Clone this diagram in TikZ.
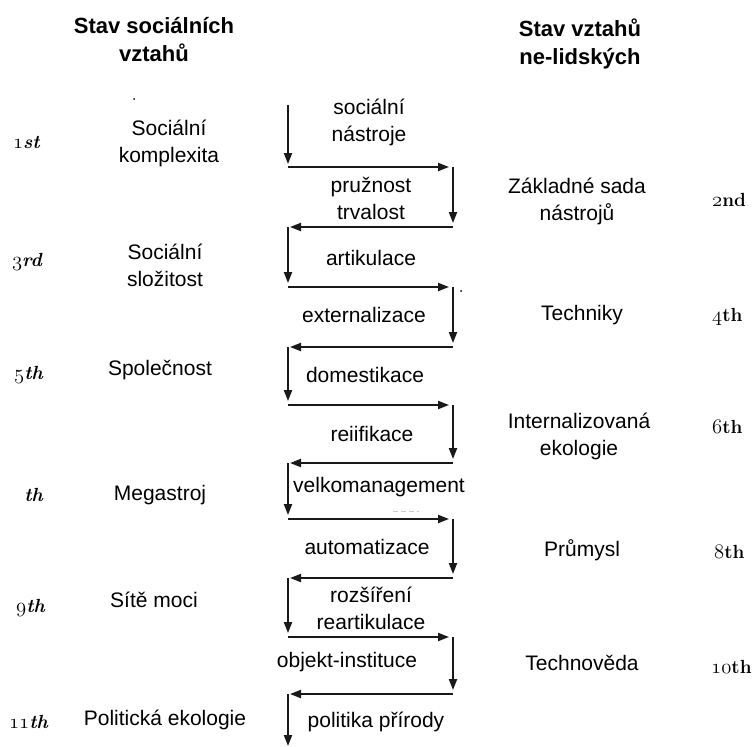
\documentclass[tikz,border=0pt]{standalone}
\usepackage{fontspec}
\newfontfamily\arialf{Liberation Sans}
\newcommand\osnumb[1]{{\usefont{OML}{lmm}{b}{it}#1}}
\usetikzlibrary{arrows.meta,calc}
\begin{document}
\begin{tikzpicture}[x=1bp,y=-1bp,
  lbl/.style={font=\arialf\fontsize{21bp}{27bp}\selectfont, align=center, inner sep=0pt},
  hdr/.style={font=\arialf\bfseries\fontsize{22bp}{28bp}\selectfont, align=center, inner sep=0pt},
  ordl/.style={font=\rmfamily\bfseries\itshape\fontsize{19bp}{22bp}\selectfont, inner sep=0pt, anchor=east},
  ordr/.style={font=\rmfamily\bfseries\fontsize{19bp}{22bp}\selectfont, inner sep=0pt, anchor=west},
  arr/.style={draw=gray!20!black, line width=2bp, -{Triangle[length=11bp,width=8bp]}}]
\useasboundingbox (0,0) rectangle (756,747);

% headers
\node[hdr] (hl) at (154,40) {Stav sociálních\\vztahů};
\node[hdr] (hr) at (580,44) {Stav vztahů\\ne-lidských};

% left labels
\node[lbl] (l1) at (169,143) {Sociální\\komplexita};
\node[lbl] (l3) at (165,265) {Sociální\\složitost};
\node[lbl] (l5) at (160,370) {Společnost};
\node[lbl] (l7) at (160,495) {Megastroj};
\node[lbl] (l9) at (154,600) {Sítě moci};
\node[lbl] (l11) at (165,720) {Politická ekologie};

% middle labels
\node[lbl] (m1) at (369,122) {sociální\\nástroje};
\node[lbl] (m2) at (371,198) {pružnost\\trvalost};
\node[lbl] (m3) at (371,258) {artikulace};
\node[lbl] (m4) at (364,315) {externalizace};
\node[lbl] (m5) at (365,375) {domestikace};
\node[lbl] (m6) at (372,434) {reiifikace};
\node[lbl] (m7) at (379,487) {velkomanagement};
\node[lbl] (m8) at (367,547) {automatizace};
\node[lbl] (m9) at (371,608) {rozšíření\\reartikulace};
\node[lbl] (m10) at (347,662) {objekt-instituce};
\node[lbl] (m11) at (376,722) {politika přírody};

% right labels
\node[lbl] (r2) at (577,201) {Základné sada\\nástrojů};
\node[lbl] (r4) at (582,315) {Techniky};
\node[lbl] (r6) at (579,436) {Internalizovaná\\ekologie};
\node[lbl] (r8) at (582,550) {Průmysl};
\node[lbl] (r10) at (582,663) {Technověda};

% ordinals
\node[ordl] (o1) at (40,142) {\osnumb{1}st};
\node[ordl] (o3) at (42,262) {\osnumb{3}rd};
\node[ordl] (o5) at (43,375) {\osnumb{5}th};
\node[ordl] (o7) at (43,495) {th};
\node[ordl] (o9) at (45,608) {\osnumb{9}th};
\node[ordl] (o11) at (48,722) {\osnumb{11}th};
\node[ordr] (o2) at (712,200) {\osnumb{2}nd};
\node[ordr] (o4) at (712,317) {\osnumb{4}th};
\node[ordr] (o6) at (712,427) {\osnumb{6}th};
\node[ordr] (o8) at (714,552) {\osnumb{8}th};
\node[ordr] (o10) at (711,667) {\osnumb{10}th};

% zigzag corners
\coordinate (L0) at (288,105);
\coordinate (L1) at (288,167); \coordinate (R1) at (453,167);
\coordinate (L2) at (288,227); \coordinate (R2) at (453,227);
\coordinate (L3) at (288,287); \coordinate (R3) at (453,287);
\coordinate (L4) at (288,347); \coordinate (R4) at (453,347);
\coordinate (L5) at (288,405); \coordinate (R5) at (453,405);
\coordinate (L6) at (288,463); \coordinate (R6) at (453,463);
\coordinate (L7) at (288,519); \coordinate (R7) at (453,519);
\coordinate (L8) at (288,578); \coordinate (R8) at (453,578);
\coordinate (L9) at (288,637); \coordinate (R9) at (453,637);
\coordinate (L10) at (288,694); \coordinate (R10) at (453,694);
\coordinate (L11) at (288,747);

\draw[arr, shorten >=3bp] (L0) -- (L1);
\draw[arr, shorten >=4bp] (L1) -- (R1);
\draw[arr, shorten >=4bp] (R1) -- (R2);
\draw[arr, shorten >=2bp] (R2) -- (L2);
\draw[arr, shorten >=4bp] (L2) -- (L3);
\draw[arr, shorten >=4bp] (L3) -- (R3);
\draw[arr, shorten >=4bp] (R3) -- (R4);
\draw[arr, shorten >=2bp] (R4) -- (L4);
\draw[arr, shorten >=4bp] (L4) -- (L5);
\draw[arr, shorten >=4bp] (L5) -- (R5);
\draw[arr, shorten >=4bp] (R5) -- (R6);
\draw[arr, shorten >=2bp] (R6) -- (L6);
\draw[arr, shorten >=4bp] (L6) -- (L7);
\draw[arr, shorten >=4bp] (L7) -- (R7);
\draw[arr, shorten >=4bp] (R7) -- (R8);
\draw[arr, shorten >=2bp] (R8) -- (L8);
\draw[arr, shorten >=4bp] (L8) -- (L9);
\draw[arr, shorten >=4bp] (L9) -- (R9);
\draw[arr, shorten >=4bp] (R9) -- (R10);
\draw[arr, shorten >=2bp] (R10) -- (L10);
\draw[arr, shorten >=1bp] (L10) -- (L11);

% stray marks
\fill (134,99) circle (1bp);
\fill (461,291) circle (1bp);
\draw[gray!40, line width=1bp, dash pattern=on 5bp off 3bp] (393,511) -- (419,511);
\end{tikzpicture}
\end{document}
